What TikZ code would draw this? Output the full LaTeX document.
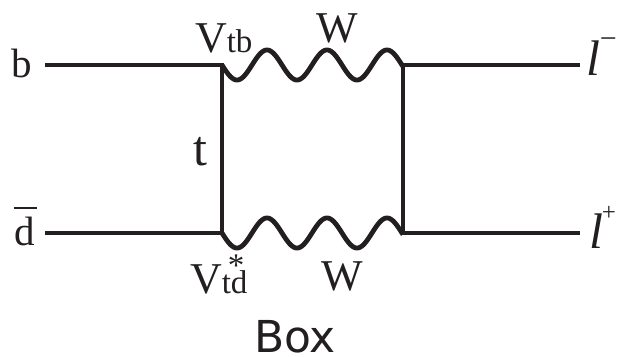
\documentclass[tikz,border=0pt]{standalone}
\usepackage{fontspec}
\setmainfont{Liberation Serif}
\newfontfamily\boxfont{DejaVu Sans}
\definecolor{ink}{HTML}{231F20}
\begin{document}
\begin{tikzpicture}[x=1pt,y=-1pt,
  fline/.style={line width=4.8pt,draw=ink,line join=miter},
  wline/.style={line width=4.8pt,draw=ink,line cap=butt},
  lab/.style={inner sep=0pt,outer sep=0pt,text=ink,font=\fontsize{44}{44}\selectfont}]
\useasboundingbox (0,0) rectangle (618,356);
% vertices
\coordinate (b1) at (45,65);
\coordinate (v1) at (222,65);
\coordinate (v2) at (403,65);
\coordinate (l1) at (580,65);
\coordinate (d1) at (45,233);
\coordinate (v3) at (222,233);
\coordinate (v4) at (403,233);
\coordinate (l2) at (580,233);
% fermion lines
\draw[fline] (b1) -- (v1) -- (v3) -- (d1);
\draw[fline] (l1) -- (v2) -- (v4) -- (l2);
% W bosons
\draw[wline,shift={(v1)}] plot[domain=0:181,samples=240,smooth] ({\x},{15*sin(6*\x)});
\draw[wline,shift={(v3)}] plot[domain=0:181,samples=240,smooth] ({\x},{15*sin(6*\x)});
% labels
\node[lab,anchor=base,font=\fontsize{41}{41}\selectfont] (lb) at (22,77) {b};
\node[lab,anchor=base,font=\fontsize{41}{41}\selectfont] (ld) at (25,245)
  {\makebox[0pt][l]{\hspace{-1pt}\raisebox{36pt}{\rule{23pt}{2pt}}}d};
\node[lab,anchor=base west] (lvtb) at (195,52) {V{\fontsize{33}{33}\selectfont tb}};
\node[lab,anchor=base] (lw1) at (337,42) {W};
\node[lab,anchor=base] (lt) at (200,165) {\fontsize{50}{50}\selectfont t};
\node[lab,anchor=base west] (lvtd) at (190,293)
  {V{\fontsize{33}{33}\selectfont\makebox[0pt][l]{\hspace{6pt}\raisebox{17pt}{*}}td}};
\node[lab,anchor=base] (lw2) at (342,290) {W};
\node[lab,anchor=base west] (llm) at (586,75)
  {{\fontsize{50}{50}\selectfont\itshape l}{\fontsize{30}{30}\selectfont\raisebox{27pt}{−}}};
\node[lab,anchor=base west] (llp) at (589,248)
  {{\fontsize{50}{50}\selectfont\itshape l}\kern-1pt{\fontsize{25}{25}\selectfont\raisebox{28pt}{+}}};
\node[lab,anchor=base] (lbox) at (295,352) {\boxfont\fontsize{44}{44}\selectfont Box};
\end{tikzpicture}
\end{document}
